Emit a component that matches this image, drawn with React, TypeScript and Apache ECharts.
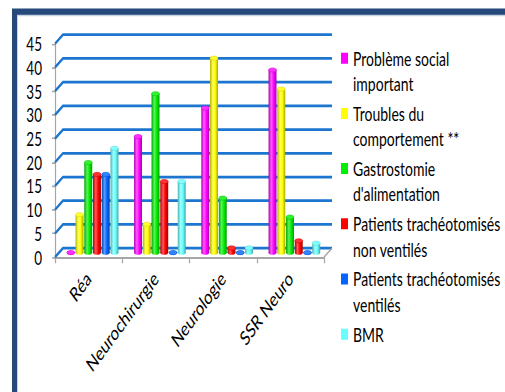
import React, { useEffect, useRef } from 'react';
import * as echarts from 'echarts';

const categories = ['Réa', 'Neurochirurgie', 'Neurologie', 'SSR Neuro'];
const seriesNames = [
  'Problème social important',
  'Troubles du comportement **',
  "Gastrostomie d'alimentation",
  'Patients trachéotomisés non ventilés',
  'Patients trachéotomisés ventilés',
  'BMR',
];
const legendLabels = [
  'Problème social\nimportant',
  'Troubles du\ncomportement **',
  "Gastrostomie\nd'alimentation",
  'Patients trachéotomisés\nnon ventilés',
  'Patients trachéotomisés\nventilés',
  'BMR\n',
];
const probSocial = [0, 24.5, 30.5, 38.5];
const troubles = [8, 6, 41, 34.5];
const gastro = [19, 33.5, 11.5, 7.5];
const trachNonVent = [16.5, 15, 1, 2.5];
const trachVent = [16.5, 0, 0, 0];
const bmr = [22, 15, 1, 2];
const yTicks = [0, 5, 10, 15, 20, 25, 30, 35, 40, 45];

const seriesValues = [probSocial, troubles, gastro, trachNonVent, trachVent, bmr];
const colors = ['#FF00FF', '#FFFF00', '#00EE00', '#FF0000', '#0066FF', '#66FFFF'];

// The reference picture is vertically stretched; draw unstretched and scale with CSS.
const S = 1.376;
const W = 505;
const H = 392 / S;

const FONT = "Lato, 'Liberation Sans', sans-serif";
const GRID_BLUE = '#1C76D0';
const AXIS_GRAY = '#A6A6A6';
const DX = 8;
const DY = 9 / S;
const LH = 25.3 / S;
const ICON_H = 8;

function hexToRgb(h: string) {
  const n = parseInt(h.slice(1), 16);
  return [(n >> 16) & 255, (n >> 8) & 255, n & 255];
}
function shade(h: string, f: number) {
  const [r, g, b] = hexToRgb(h);
  return `rgb(${Math.round(r * f)},${Math.round(g * f)},${Math.round(b * f)})`;
}
function tint(h: string, f: number) {
  const [r, g, b] = hexToRgb(h);
  return `rgb(${Math.round(r + (255 - r) * f)},${Math.round(g + (255 - g) * f)},${Math.round(b + (255 - b) * f)})`;
}

export default function App() {
  const ref = useRef<HTMLDivElement>(null);
  useEffect(() => {
    const chart = echarts.init(ref.current!, null, { renderer: 'svg' });

    const wallSeries: any = {
      type: 'custom',
      name: 'wall',
      silent: true,
      data: yTicks.map((v) => [0, v]),
      encode: { x: 0, y: 1 },
      renderItem: (params: any, api: any) => {
        const v = api.value(1);
        const cs = params.coordSys;
        const y = api.coord([0, v])[1];
        const x0 = cs.x;
        const x1 = cs.x + cs.width;
        const children: any[] = [
          {
            type: 'polyline',
            shape: { points: [[x0, y], [x0 + DX, y - DY], [x1 + DX, y - DY]] },
            style: { stroke: GRID_BLUE, lineWidth: 2, fill: 'none' },
          },
        ];
        if (v === 0) {
          children.push({
            type: 'line',
            shape: { x1: x1, y1: y, x2: x1 + DX, y2: y - DY },
            style: { stroke: AXIS_GRAY, lineWidth: 1.3 },
          });
        }
        return { type: 'group', children };
      },
      z: 1,
    };

    const barSeries = seriesNames.map((name, s) => {
      const c = colors[s];
      return {
        type: 'custom',
        name,
        itemStyle: { color: c },
        data: seriesValues[s].map((v, i) => [i, v]),
        encode: { x: 0, y: 1 },
        z: 3,
        renderItem: (params: any, api: any) => {
          const ci = api.value(0);
          const v = api.value(1);
          const base = api.coord([ci, 0]);
          const top = api.coord([ci, v]);
          const band = api.size([1, 0])[0];
          const bw = band * 0.13;
          const x = base[0] - 3 * bw + s * bw + DX / 2;
          const yb = base[1] - DY / 2;
          const yt = top[1] - DY / 2;
          const rx = bw / 2 - 0.4;
          const ry = 1.5;
          const grad = new echarts.graphic.LinearGradient(0, 0, 1, 0, [
            { offset: 0, color: shade(c, 0.7) },
            { offset: 0.35, color: tint(c, 0.35) },
            { offset: 0.65, color: c },
            { offset: 1, color: shade(c, 0.65) },
          ]);
          return {
            type: 'group',
            children: [
              {
                type: 'ellipse',
                shape: { cx: x + bw / 2, cy: yb, rx, ry },
                style: { fill: grad },
              },
              {
                type: 'rect',
                shape: { x: x + 0.4, y: yt, width: bw - 0.8, height: Math.max(0, yb - yt) },
                style: { fill: grad },
              },
              {
                type: 'ellipse',
                shape: { cx: x + bw / 2, cy: yt, rx, ry },
                style: { fill: tint(c, 0.2), stroke: shade(c, 0.85), lineWidth: 0.5 },
              },
            ],
          };
        },
      };
    });

    const option: any = {
      animation: false,
      backgroundColor: '#ffffff',
      graphic: [
        {
          type: 'rect',
          shape: { x: 14.5, y: 12 / S, width: 700, height: 700 },
          style: { fill: 'none', stroke: '#25497A', lineWidth: 5 },
          z: 0,
        },
        {
          type: 'rect',
          shape: { x: 17.5, y: 15.5 / S, width: 700, height: 700 },
          style: { fill: 'none', stroke: '#C9D3E0', lineWidth: 1 },
          z: 0,
        },
      ],
      grid: { left: 55, right: W - 324, top: 43.7 / S, bottom: H - 257 / S },
      xAxis: {
        type: 'category',
        data: categories,
        boundaryGap: true,
        axisLine: { show: true, lineStyle: { color: AXIS_GRAY, width: 1.3 } },
        axisTick: { show: true, length: 6 / S, lineStyle: { color: AXIS_GRAY, width: 1.2 } },
        axisLabel: { rotate: 45, margin: 13, fontSize: 14.5, fontFamily: FONT, color: '#000' },
        splitLine: { show: false },
      },
      yAxis: {
        type: 'value',
        min: 0,
        max: 45,
        interval: 5,
        axisLine: { show: true, lineStyle: { color: AXIS_GRAY, width: 1.2 } },
        axisTick: { show: true, length: 3, lineStyle: { color: AXIS_GRAY, width: 1.2 } },
        axisLabel: { margin: 13, fontSize: 13.5, fontFamily: FONT, color: '#000' },
        splitLine: { show: false },
      },
      legend: {
        orient: 'vertical',
        left: 341,
        top: 52.7 / S + ICON_H / 2 - 1.5 * LH,
        padding: 0,
        itemWidth: 7,
        itemHeight: ICON_H,
        itemGap: 55.2 / S - 3 * LH,
        icon: 'rect',
        selectedMode: false,
        data: seriesNames,
        formatter: (name: string) => '\n' + legendLabels[seriesNames.indexOf(name)],
        textStyle: { fontSize: 14, lineHeight: LH, fontFamily: FONT, color: '#000' },
      },
      series: [wallSeries, ...barSeries],
    };

    chart.setOption(option);
    return () => chart.dispose();
  }, []);

  return (
    <div
      ref={ref}
      style={{
        position: 'fixed',
        left: 0,
        top: 0,
        width: W,
        height: H,
        background: '#fff',
        transform: `scaleY(${S})`,
        transformOrigin: 'top left',
      }}
    />
  );
}
